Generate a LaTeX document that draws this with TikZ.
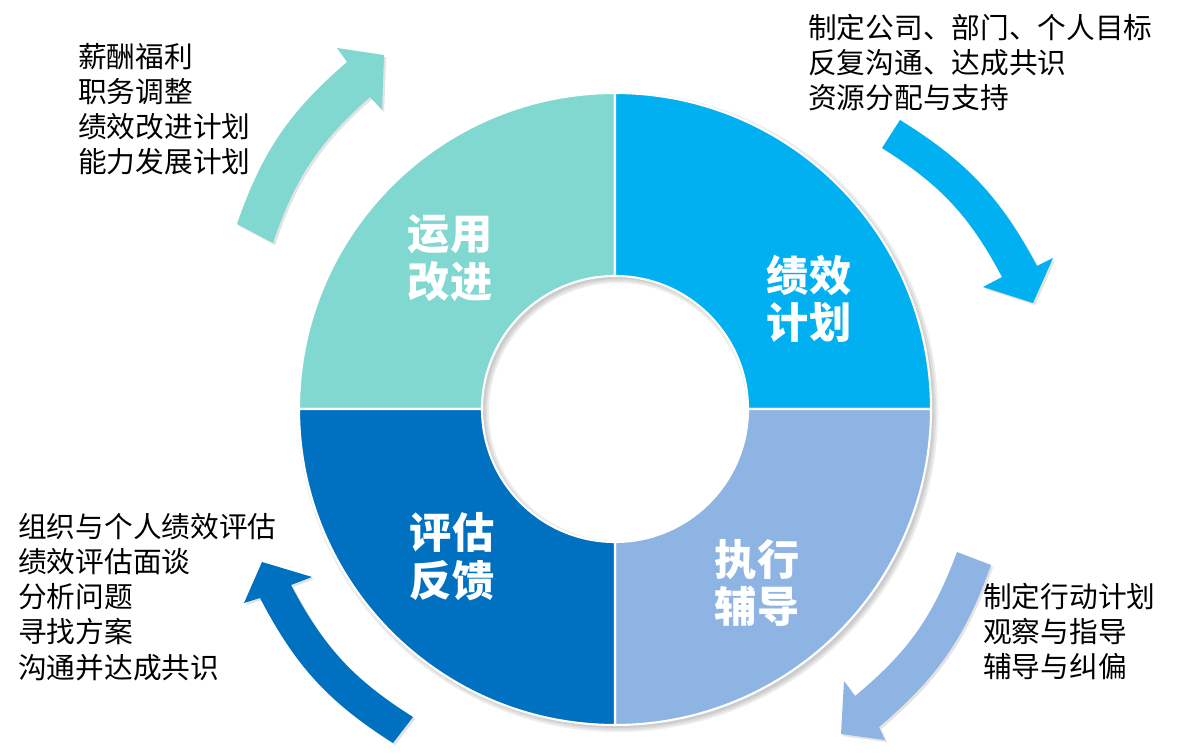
\documentclass[tikz,border=0pt]{standalone}
\usepackage{fontspec}
\setmainfont{Noto Sans CJK SC}
\usepackage{tikz}
\usetikzlibrary{calc,shadows}
\definecolor{qteal}{HTML}{80D8D0}
\definecolor{qsky} {HTML}{00B0F0}
\definecolor{qpale}{HTML}{8EB4E3}
\definecolor{qdeep}{HTML}{0070C0}
\tikzset{
  % --- ring parts
  quad/.style = {draw=white, line width=1.5pt},
  qlbl/.style = {text=white, align=center, inner sep=0pt,
                 font=\fontsize{30}{34}\selectfont\bfseries},
  % --- curved arrows and lists
  arw/.style  = {drop shadow={opacity=.22, shadow xshift=1.5pt, shadow yshift=-1.5pt}},
  lst/.style  = {anchor=north west, align=left, inner sep=0pt,
                 font=\fontsize{20.4}{25}\selectfont},
}
\begin{document}
\begin{tikzpicture}[x=0.025cm,y=0.025cm]
  \useasboundingbox (0,0) rectangle (1203,754);
  \coordinate (o) at (615,345);
  % --- soft shadow of the ring
  \foreach \s in {0,2,4}
    \fill[black,opacity=.07,even odd rule] ($(o)+(3,-3)$) circle (316+\s) ($(o)+(3,-3)$) circle (133-\s);
  % --- four quarters
  \filldraw[quad,fill=qteal] ($(o)+(90:316)$) arc[start angle=90,end angle=180,radius=316]
    -- ($(o)+(180:133)$) arc[start angle=180,end angle=90,radius=133] -- cycle;
  \filldraw[quad,fill=qsky] ($(o)+(0:316)$) arc[start angle=0,end angle=90,radius=316]
    -- ($(o)+(90:133)$) arc[start angle=90,end angle=0,radius=133] -- cycle;
  \filldraw[quad,fill=qpale] ($(o)+(270:316)$) arc[start angle=270,end angle=360,radius=316]
    -- ($(o)+(0:133)$) arc[start angle=360,end angle=270,radius=133] -- cycle;
  \filldraw[quad,fill=qdeep] ($(o)+(180:316)$) arc[start angle=180,end angle=270,radius=316]
    -- ($(o)+(270:133)$) arc[start angle=270,end angle=180,radius=133] -- cycle;
  \node[qlbl] (use)  at (450,496) {运用\\改进};
  \node[qlbl] (plan) at (809,455) {绩效\\计划};
  \node[qlbl] (run)  at (757,171) {执行\\辅导};
  \node[qlbl] (eval) at (452,197) {评估\\反馈};
  % --- curved arrows, clockwise
  \fill[arw,qteal] (237,530) to[bend left=15] (347,692) -- (337,706) -- (384,699)
    -- (382,644) -- (370,657) to[bend right=15] (273,511) -- cycle;
  \fill[arw,qsky] (900,634) to[bend left=15] (1037,488) -- (1053,496) -- (1033,451)
    -- (983,467) -- (1002,477) to[bend right=15] (882,606) -- cycle;
  \fill[arw,qpale] (991,189) to[bend left=15] (879,27) -- (885,14) -- (841,20)
    -- (844,73) -- (855,58) to[bend right=15] (957,202) -- cycle;
  \fill[arw,qdeep] (393,11) to[bend left=15] (260,156) -- (244,151) -- (262,192)
    -- (312,177) -- (291,169) to[bend right=15] (413,37) -- cycle;
  % --- lists
  \node[lst] (usel)  at (78,711)  {薪酬福利\\职务调整\\绩效改进计划\\能力发展计划};
  \node[lst] (planl) at (808,740) {制定公司、部门、个人目标\\反复沟通、达成共识\\资源分配与支持};
  \node[lst] (runl)  at (983,171) {制定行动计划\\观察与指导\\辅导与纠偏};
  \node[lst] (evall) at (18,241)  {组织与个人绩效评估\\绩效评估面谈\\分析问题\\寻找方案\\沟通并达成共识};
\end{tikzpicture}
\end{document}
